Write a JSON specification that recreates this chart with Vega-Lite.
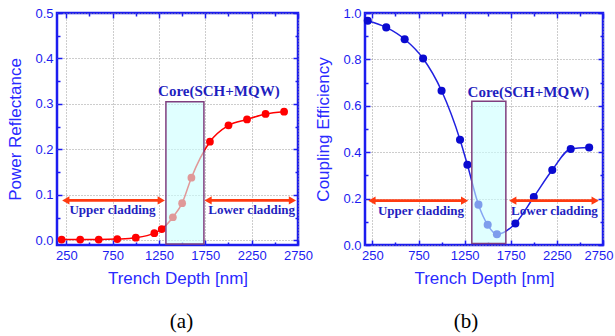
{
  "$schema": "https://vega.github.io/schema/vega-lite/v6.json",
  "background": "white",
  "padding": 5,
  "spacing": -1,
  "datasets": {
    "ra": [
      {"depth": 200, "value": 0.002}, {"depth": 400, "value": 0.002}, {"depth": 600, "value": 0.002},
      {"depth": 800, "value": 0.003}, {"depth": 1000, "value": 0.006}, {"depth": 1200, "value": 0.016},
      {"depth": 1280, "value": 0.025}, {"depth": 1400, "value": 0.051}, {"depth": 1500, "value": 0.082},
      {"depth": 1600, "value": 0.138}, {"depth": 1800, "value": 0.217}, {"depth": 2000, "value": 0.253},
      {"depth": 2200, "value": 0.266}, {"depth": 2400, "value": 0.278}, {"depth": 2600, "value": 0.283}
    ],
    "ce": [
      {"depth": 200, "value": 0.967}, {"depth": 400, "value": 0.938}, {"depth": 600, "value": 0.887},
      {"depth": 800, "value": 0.804}, {"depth": 1000, "value": 0.665}, {"depth": 1200, "value": 0.454},
      {"depth": 1280, "value": 0.346}, {"depth": 1400, "value": 0.174}, {"depth": 1500, "value": 0.087},
      {"depth": 1600, "value": 0.046}, {"depth": 1800, "value": 0.093}, {"depth": 2000, "value": 0.207},
      {"depth": 2200, "value": 0.323}, {"depth": 2400, "value": 0.414}, {"depth": 2600, "value": 0.420}
    ]
  },
  "config": {
    "view": {"stroke": "#1c1cf0", "strokeWidth": 2.5},
    "axis": {
      "domain": false,
      "labelFont": "Liberation Sans", "labelFontSize": 13, "labelColor": "#1c1cf0", "labelOverlap": false, "labelFlush": false,
      "titleFont": "Liberation Sans", "titleFontSize": 17, "titleFontWeight": "normal", "titleColor": "#2a2aff",
      "tickColor": "#1c1cf0", "tickWidth": 1.5,
      "gridColor": "#9a9a9a", "gridDash": [1, 2], "gridWidth": 1
    }
  },
  "hconcat": [
    {
      "width": 241, "height": 232,
      "title": {"text": "(a)", "orient": "bottom", "font": "Liberation Serif", "fontSize": 21, "fontWeight": "normal", "color": "#000000", "offset": 25, "dx": 4},
      "resolve": {"axis": {"x": "independent", "y": "independent"}},
      "layer": [
        {
          "data": {"name": "ra"},
          "mark": {"type": "line", "interpolate": "monotone", "color": "#ff0000", "strokeWidth": 1.5},
          "encoding": {
            "x": {"field": "depth", "type": "quantitative", "scale": {"domain": [150, 2750], "nice": false, "zero": false},
                  "axis": {"orient": "bottom", "values": [250, 750, 1250, 1750, 2250, 2750], "format": "d", "grid": true, "tickSize": -5, "labelPadding": 9, "title": "Trench Depth [nm]", "titlePadding": 8}},
            "y": {"field": "value", "type": "quantitative", "scale": {"domain": [-0.01, 0.5], "nice": false, "zero": false},
                  "axis": {"orient": "left", "values": [0, 0.1, 0.2, 0.3, 0.4, 0.5], "format": ".1f", "grid": true, "tickSize": -5, "labelPadding": 9, "title": "Power Reflectance", "titlePadding": 10}}
          }
        },
        {
          "data": {"name": "ra"},
          "mark": {"type": "point", "filled": true, "color": "#ff0000", "size": 60, "opacity": 1},
          "encoding": {
            "x": {"field": "depth", "type": "quantitative", "scale": {"domain": [150, 2750], "nice": false, "zero": false},
                  "axis": {"orient": "top", "values": [250, 750, 1250, 1750, 2250, 2750], "grid": false, "labels": false, "tickSize": -5, "title": null}},
            "y": {"field": "value", "type": "quantitative", "scale": {"domain": [-0.01, 0.5], "nice": false, "zero": false},
                  "axis": {"orient": "right", "values": [0, 0.1, 0.2, 0.3, 0.4, 0.5], "grid": false, "labels": false, "tickSize": -5, "title": null}}
          }
        },
        {
          "data": {"values": [{"start": 1325, "end": 1735, "bottom": -0.008, "top": 0.305}]},
          "mark": {"type": "rect", "fill": "#ccffff", "fillOpacity": 0.6, "stroke": "#7f3f7f", "strokeWidth": 1.5},
          "encoding": {
            "x": {"field": "start", "type": "quantitative", "scale": {"domain": [150, 2750], "nice": false, "zero": false},
                  "axis": {"orient": "bottom", "values": [500, 1000, 1500, 2000, 2500], "grid": false, "labels": false, "tickSize": -3, "title": null}},
            "x2": {"field": "end"},
            "y": {"field": "bottom", "type": "quantitative", "scale": {"domain": [-0.01, 0.5], "nice": false, "zero": false},
                  "axis": {"orient": "left", "values": [0.05, 0.15, 0.25, 0.35, 0.45], "grid": false, "labels": false, "tickSize": -3, "title": null}},
            "y2": {"field": "top"}
          }
        },
        {
          "data": {"values": [{"x1": 245, "x2": 1275, "y": 0.088}, {"x1": 1780, "x2": 2690, "y": 0.088}]},
          "mark": {"type": "rule", "color": "#ff3a10", "strokeWidth": 2.7},
          "encoding": {
            "x": {"field": "x1", "type": "quantitative", "scale": {"domain": [150, 2750], "nice": false, "zero": false},
                  "axis": {"orient": "top", "values": [500, 1000, 1500, 2000, 2500], "grid": false, "labels": false, "tickSize": -3, "title": null}},
            "x2": {"field": "x2"},
            "y": {"field": "y", "type": "quantitative", "scale": {"domain": [-0.01, 0.5], "nice": false, "zero": false},
                  "axis": {"orient": "right", "values": [0.05, 0.15, 0.25, 0.35, 0.45], "grid": false, "labels": false, "tickSize": -3, "title": null}}
          }
        },
        {
          "data": {"values": [{"x1": 245, "x2": 1275, "y": 0.088}, {"x1": 1780, "x2": 2690, "y": 0.088}]},
          "mark": {"type": "point", "shape": "triangle-left", "filled": true, "color": "#ff3a10", "size": 70, "opacity": 1},
          "encoding": {
            "x": {"field": "x1", "type": "quantitative", "scale": {"domain": [150, 2750], "nice": false, "zero": false}, "axis": null},
            "y": {"field": "y", "type": "quantitative", "scale": {"domain": [-0.01, 0.5], "nice": false, "zero": false}, "axis": null}
          }
        },
        {
          "data": {"values": [{"x1": 245, "x2": 1275, "y": 0.088}, {"x1": 1780, "x2": 2690, "y": 0.088}]},
          "mark": {"type": "point", "shape": "triangle-right", "filled": true, "color": "#ff3a10", "size": 70, "opacity": 1},
          "encoding": {
            "x": {"field": "x2", "type": "quantitative", "scale": {"domain": [150, 2750], "nice": false, "zero": false}, "axis": null},
            "y": {"field": "y", "type": "quantitative", "scale": {"domain": [-0.01, 0.5], "nice": false, "zero": false}, "axis": null}
          }
        },
        {
          "data": {"values": [{"x": 748, "y": 0.066, "label": "Upper cladding"}, {"x": 2250, "y": 0.066, "label": "Lower cladding"}]},
          "mark": {"type": "text", "font": "Liberation Serif", "fontWeight": "bold", "fontSize": 13, "color": "#1f1fbf"},
          "encoding": {
            "x": {"field": "x", "type": "quantitative", "scale": {"domain": [150, 2750], "nice": false, "zero": false}, "axis": null},
            "y": {"field": "y", "type": "quantitative", "scale": {"domain": [-0.01, 0.5], "nice": false, "zero": false}, "axis": null},
            "text": {"field": "label"}
          }
        },
        {
          "data": {"values": [{"x": 1896, "y": 0.329, "label": "Core(SCH+MQW)"}]},
          "mark": {"type": "text", "font": "Liberation Serif", "fontWeight": "bold", "fontSize": 15, "color": "#1f1fbf"},
          "encoding": {
            "x": {"field": "x", "type": "quantitative", "scale": {"domain": [150, 2750], "nice": false, "zero": false}, "axis": null},
            "y": {"field": "y", "type": "quantitative", "scale": {"domain": [-0.01, 0.5], "nice": false, "zero": false}, "axis": null},
            "text": {"field": "label"}
          }
        }
      ]
    },
    {
      "width": 238, "height": 232,
      "title": {"text": "(b)", "orient": "bottom", "font": "Liberation Serif", "fontSize": 21, "fontWeight": "normal", "color": "#000000", "offset": 25, "dx": -18},
      "resolve": {"axis": {"x": "independent", "y": "independent"}},
      "layer": [
        {
          "data": {"name": "ce"},
          "mark": {"type": "line", "interpolate": "monotone", "color": "#2020e0", "strokeWidth": 1.5},
          "encoding": {
            "x": {"field": "depth", "type": "quantitative", "scale": {"domain": [170, 2750], "nice": false, "zero": false},
                  "axis": {"orient": "bottom", "values": [250, 750, 1250, 1750, 2250, 2750], "format": "d", "grid": true, "tickSize": -5, "labelPadding": 9, "labelFlush": 1, "labelFlushOffset": 10, "title": "Trench Depth [nm]", "titlePadding": 8}},
            "y": {"field": "value", "type": "quantitative", "scale": {"domain": [0, 1.0], "nice": false, "zero": false},
                  "axis": {"orient": "left", "values": [0, 0.2, 0.4, 0.6, 0.8, 1.0], "format": ".1f", "grid": true, "tickSize": -5, "labelPadding": 9, "title": "Coupling Efficiency", "titlePadding": 10}}
          }
        },
        {
          "data": {"name": "ce"},
          "mark": {"type": "point", "filled": true, "color": "#0a0ad0", "size": 65, "opacity": 1},
          "encoding": {
            "x": {"field": "depth", "type": "quantitative", "scale": {"domain": [170, 2750], "nice": false, "zero": false},
                  "axis": {"orient": "top", "values": [250, 750, 1250, 1750, 2250, 2750], "grid": false, "labels": false, "tickSize": -5, "title": null}},
            "y": {"field": "value", "type": "quantitative", "scale": {"domain": [0, 1.0], "nice": false, "zero": false},
                  "axis": {"orient": "right", "values": [0, 0.2, 0.4, 0.6, 0.8, 1.0], "grid": false, "labels": false, "tickSize": -5, "title": null}}
          }
        },
        {
          "data": {"values": [{"start": 1328, "end": 1697, "bottom": 0.006, "top": 0.62}]},
          "mark": {"type": "rect", "fill": "#ccffff", "fillOpacity": 0.6, "stroke": "#7f3f7f", "strokeWidth": 1.5},
          "encoding": {
            "x": {"field": "start", "type": "quantitative", "scale": {"domain": [170, 2750], "nice": false, "zero": false},
                  "axis": {"orient": "bottom", "values": [500, 1000, 1500, 2000, 2500], "grid": false, "labels": false, "tickSize": -3, "title": null}},
            "x2": {"field": "end"},
            "y": {"field": "bottom", "type": "quantitative", "scale": {"domain": [0, 1.0], "nice": false, "zero": false},
                  "axis": {"orient": "left", "values": [0.1, 0.3, 0.5, 0.7, 0.9], "grid": false, "labels": false, "tickSize": -3, "title": null}},
            "y2": {"field": "top"}
          }
        },
        {
          "data": {"values": [{"x1": 245, "x2": 1250, "y": 0.191}, {"x1": 1772, "x2": 2665, "y": 0.191}]},
          "mark": {"type": "rule", "color": "#ff3a10", "strokeWidth": 2.7},
          "encoding": {
            "x": {"field": "x1", "type": "quantitative", "scale": {"domain": [170, 2750], "nice": false, "zero": false},
                  "axis": {"orient": "top", "values": [500, 1000, 1500, 2000, 2500], "grid": false, "labels": false, "tickSize": -3, "title": null}},
            "x2": {"field": "x2"},
            "y": {"field": "y", "type": "quantitative", "scale": {"domain": [0, 1.0], "nice": false, "zero": false},
                  "axis": {"orient": "right", "values": [0.1, 0.3, 0.5, 0.7, 0.9], "grid": false, "labels": false, "tickSize": -3, "title": null}}
          }
        },
        {
          "data": {"values": [{"x1": 245, "x2": 1250, "y": 0.191}, {"x1": 1772, "x2": 2665, "y": 0.191}]},
          "mark": {"type": "point", "shape": "triangle-left", "filled": true, "color": "#ff3a10", "size": 70, "opacity": 1},
          "encoding": {
            "x": {"field": "x1", "type": "quantitative", "scale": {"domain": [170, 2750], "nice": false, "zero": false}, "axis": null},
            "y": {"field": "y", "type": "quantitative", "scale": {"domain": [0, 1.0], "nice": false, "zero": false}, "axis": null}
          }
        },
        {
          "data": {"values": [{"x1": 245, "x2": 1250, "y": 0.191}, {"x1": 1772, "x2": 2665, "y": 0.191}]},
          "mark": {"type": "point", "shape": "triangle-right", "filled": true, "color": "#ff3a10", "size": 70, "opacity": 1},
          "encoding": {
            "x": {"field": "x2", "type": "quantitative", "scale": {"domain": [170, 2750], "nice": false, "zero": false}, "axis": null},
            "y": {"field": "y", "type": "quantitative", "scale": {"domain": [0, 1.0], "nice": false, "zero": false}, "axis": null}
          }
        },
        {
          "data": {"values": [{"x": 777, "y": 0.145, "label": "Upper cladding"}, {"x": 2224, "y": 0.145, "label": "Lower cladding"}]},
          "mark": {"type": "text", "font": "Liberation Serif", "fontWeight": "bold", "fontSize": 13, "color": "#1f1fbf"},
          "encoding": {
            "x": {"field": "x", "type": "quantitative", "scale": {"domain": [170, 2750], "nice": false, "zero": false}, "axis": null},
            "y": {"field": "y", "type": "quantitative", "scale": {"domain": [0, 1.0], "nice": false, "zero": false}, "axis": null},
            "text": {"field": "label"}
          }
        },
        {
          "data": {"values": [{"x": 1941, "y": 0.659, "label": "Core(SCH+MQW)"}]},
          "mark": {"type": "text", "font": "Liberation Serif", "fontWeight": "bold", "fontSize": 15, "color": "#1f1fbf"},
          "encoding": {
            "x": {"field": "x", "type": "quantitative", "scale": {"domain": [170, 2750], "nice": false, "zero": false}, "axis": null},
            "y": {"field": "y", "type": "quantitative", "scale": {"domain": [0, 1.0], "nice": false, "zero": false}, "axis": null},
            "text": {"field": "label"}
          }
        }
      ]
    }
  ]
}
